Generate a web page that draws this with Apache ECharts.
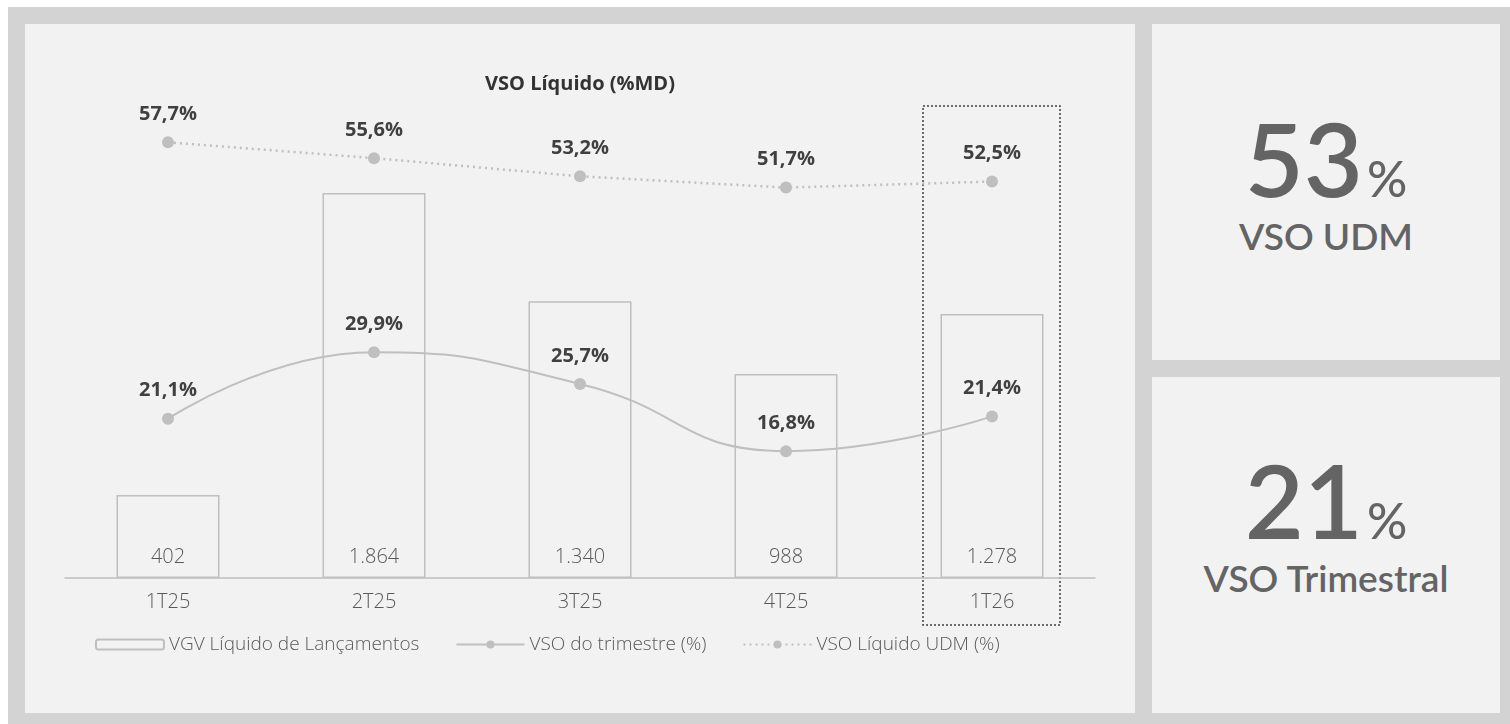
<!DOCTYPE html>
<html lang="pt-BR">
<head>
  <meta charset="UTF-8">
  <title>VSO Líquido (%MD)</title>
  <script src="https://cdn.jsdelivr.net/npm/echarts@6/dist/echarts.min.js"></script>
  <style>
    body { margin: 0; background: #fff; font-family: Lato, "Noto Sans", sans-serif; }
    #frame {
      position: absolute; left: 8px; top: 7px; width: 1502px; height: 717px;
      background: #d3d3d3;
    }
    .panel { position: absolute; background: #f2f2f2; }
    #main { left: 25px; top: 24px; width: 1110px; height: 689px; }
    #kpi1 { left: 1152px; top: 24px; width: 348px; height: 336px; }
    #kpi2 { left: 1152px; top: 377px; width: 348px; height: 336px; }
    .kpi {
      display: flex; flex-direction: column; align-items: center; justify-content: center;
      color: #646464;
    }
    .kpi .big { font-size: 102px; font-weight: 600; line-height: 0.9; }
    .kpi .big span { font-size: 50px; font-weight: 500; margin-left: 4px; }
    .kpi .label { font-size: 37px; font-weight: 600; margin-top: 10px; }
    #chart { position: absolute; left: 0; top: 0; width: 1110px; height: 689px; }
  </style>
</head>
<body>
  <div id="frame"></div>
  <div class="panel" id="main"><div id="chart"></div></div>
  <div class="panel kpi" id="kpi1">
    <div class="big" style="margin-top:-14px">53<span>%</span></div>
    <div class="label">VSO UDM</div>
  </div>
  <div class="panel kpi" id="kpi2">
    <div class="big" style="margin-top:-36px">21<span>%</span></div>
    <div class="label">VSO Trimestral</div>
  </div>

  <script>
    // dados do gráfico
    const trimestres = ['1T25', '2T25', '3T25', '4T25', '1T26'];
    const vgvLancamentos = [402, 1864, 1340, 988, 1278];
    const vsoTrimestre = [21.1, 29.9, 25.7, 16.8, 21.4];
    const vsoUdm = [57.7, 55.6, 53.2, 51.7, 52.5];

    const cinza = '#bfbfbf';
    const fmtPct = v => v.toFixed(1).replace('.', ',') + '%';
    const fmtMil = v => String(v).replace(/\B(?=(\d{3})+(?!\d))/g, '.');

    const chart = echarts.init(document.getElementById('chart'));
    const option = {
      backgroundColor: '#f2f2f2',
      textStyle: { fontFamily: '"Open Sans", "Noto Sans", sans-serif' },
      title: {
        text: 'VSO Líquido (%MD)',
        left: 'center',
        top: 45,
        textStyle: { fontSize: 20, fontWeight: 'bold', color: '#333' }
      },
      grid: { left: 40, width: 1030, top: 76, bottom: 135 },
      legend: {
        left: 65,
        top: 606,
        itemWidth: 68,
        itemHeight: 10,
        itemGap: 36,
        textStyle: { fontSize: 19, color: '#595959', fontWeight: 300 },
        data: ['VGV Líquido de Lançamentos', 'VSO do trimestre (%)', 'VSO Líquido UDM (%)']
      },
      xAxis: {
        type: 'category',
        data: trimestres,
        axisTick: { show: false },
        axisLine: { lineStyle: { color: cinza, width: 1.5 } },
        axisLabel: { fontSize: 20, color: '#595959', fontWeight: 300, margin: 14 }
      },
      yAxis: [
        { type: 'value', min: 0, max: 2315, show: false, splitLine: { show: false } },
        { type: 'value', min: 0, max: 63.3, show: false, splitLine: { show: false } }
      ],
      series: [
        {
          name: 'VGV Líquido de Lançamentos',
          type: 'bar',
          data: vgvLancamentos,
          barWidth: '50%',
          itemStyle: { color: '#f2f2f2', borderColor: cinza, borderWidth: 1.5 },
          label: {
            show: true, position: 'insideBottom', distance: 11,
            fontSize: 20, fontWeight: 300, color: '#595959', formatter: p => fmtMil(p.value)
          },
          emphasis: { disabled: true }
        },
        {
          name: 'VSO do trimestre (%)',
          type: 'line',
          yAxisIndex: 1,
          data: vsoTrimestre,
          smooth: 0.5,
          symbol: 'circle',
          symbolSize: 12,
          itemStyle: { color: cinza },
          lineStyle: { color: cinza, width: 2 },
          label: {
            show: true, position: 'top', distance: 12,
            fontSize: 20, fontWeight: 'bold', color: '#404040', formatter: p => fmtPct(p.value)
          },
          z: 5
        },
        {
          name: 'VSO Líquido UDM (%)',
          type: 'line',
          yAxisIndex: 1,
          data: vsoUdm,
          symbol: 'circle',
          symbolSize: 12,
          itemStyle: { color: cinza },
          lineStyle: { color: cinza, width: 2.5, type: [2, 4] },
          label: {
            show: true, position: 'top', distance: 12,
            fontSize: 20, fontWeight: 'bold', color: '#404040', formatter: p => fmtPct(p.value)
          },
          z: 5
        }
      ]
    };
    chart.setOption(option);

    // caixa pontilhada destacando o último trimestre
    const ultimo = trimestres[trimestres.length - 1];
    const cx = chart.convertToPixel({ xAxisIndex: 0 }, ultimo);
    chart.setOption({
      graphic: [{
        type: 'rect',
        shape: { x: cx - 69, y: 82, width: 137, height: 519 },
        style: { fill: null, stroke: '#404040', lineWidth: 1.5, lineDash: [2, 2] },
        silent: true
      }]
    });
  </script>
</body>
</html>
